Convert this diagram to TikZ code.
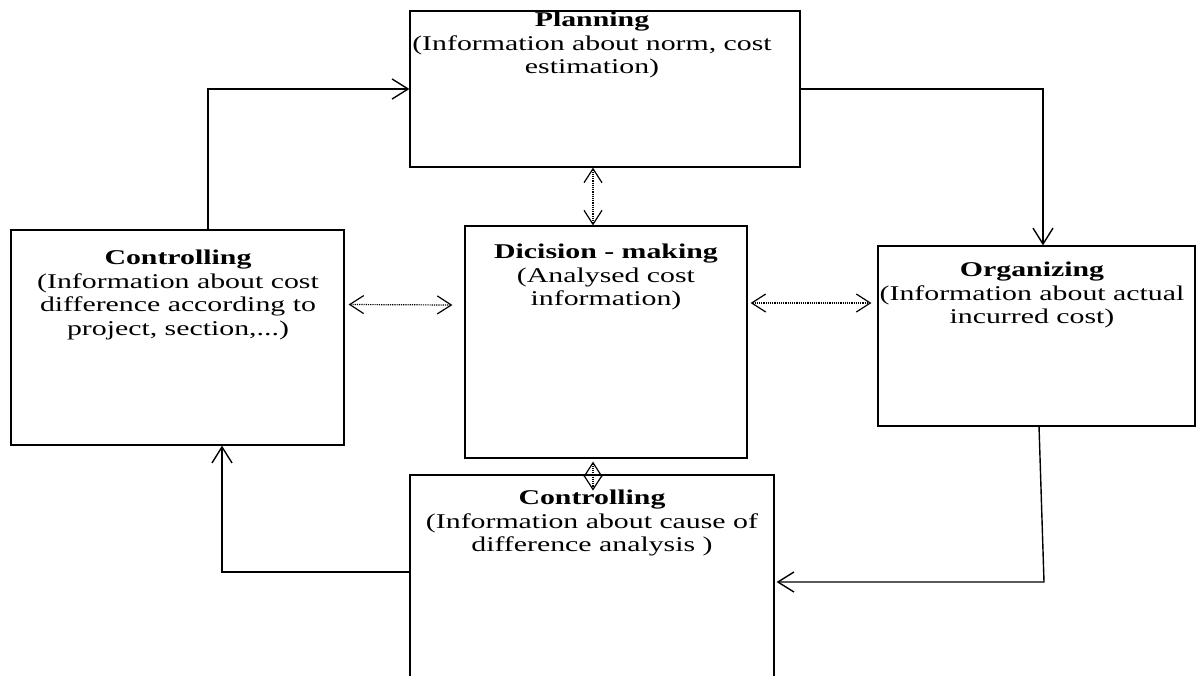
\documentclass[tikz,border=0pt]{standalone}
\usepackage{fontspec}
\setmainfont{Liberation Serif}
\usetikzlibrary{arrows.meta,calc}
\begin{document}
\begin{tikzpicture}[x=1pt,y=-1pt,
  box/.style={draw,line width=1.2pt,inner sep=0pt},
  txt/.style={align=center,font=\fontsize{21}{23.5}\selectfont,anchor=north,inner sep=0pt,xscale=1.42,transform shape},
  flow/.style={line width=1.4pt,-{Straight Barb[length=16pt,width=20pt,line width=1.4pt]}},
  dots/.style={line width=1.2pt,densely dotted,{Straight Barb[length=14pt,width=18pt,line width=1.2pt]}-{Straight Barb[length=14pt,width=18pt,line width=1.2pt]}}]
\useasboundingbox (0,0) rectangle (1196,675);
\clip (0,0) rectangle (1196,675);
% boxes
\node[box,minimum width=390pt,minimum height=156pt] (plan) at (605,89) {};
\node[box,minimum width=333pt,minimum height=215pt] (ctl) at (177.5,337.5) {};
\node[box,minimum width=282pt,minimum height=232pt] (dec) at (606,342) {};
\node[box,minimum width=317pt,minimum height=180pt] (org) at (1036.5,336) {};
\node[box,minimum width=364pt,minimum height=240pt] (bot) at (592,595) {};
% texts
\node[txt] (tplan) at (592,12) {\textbf{Planning}\\(Information about norm, cost\\estimation)};
\node[txt] (tctl) at (178,250) {\textbf{Controlling}\\(Information about cost\\difference according to\\project, section,...)};
\node[txt] (tdec) at (606,244) {\textbf{Dicision - making}\\(Analysed cost\\information)};
\node[txt] (torg) at (1032,262) {\textbf{Organizing}\\(Information about actual\\incurred cost)};
\node[txt] (tbot) at (592,490) {\textbf{Controlling}\\(Information about cause of\\difference analysis )};
% helper coordinates
\coordinate (c1) at (208,0);
\coordinate (c2) at (1043,0);
\coordinate (o1) at (1039,426);
\coordinate (o2) at (1044,582);
\coordinate (b1) at (222,0);
\coordinate (b2) at (0,572);
% flows
\draw[flow] (ctl.north -| c1) |- (plan.west);
\draw[flow] (plan.east) -| (org.north -| c2);
\draw[flow] (o1) -- (o2) -- ($(o2 -| bot.east)+(2,0)$);
\draw[flow] (bot.west |- b2) -| (ctl.south -| b1);
% dotted double arrows
\draw[dots] ($(plan.south)+(-12,0)$) -- ($(dec.north)+(-13,0)$);
\draw[dots] ($(dec.south)+(-13,3)$) -- ($(dec.south)+(-13,32)$);
\draw[dots] ($(ctl.east)+(4,-33)$) -- ($(dec.west)+(-12,-37)$);
\draw[dots] ($(dec.east)+(3,-39)$) -- ($(org.west)+(-6,-33)$);
\end{tikzpicture}
\end{document}
